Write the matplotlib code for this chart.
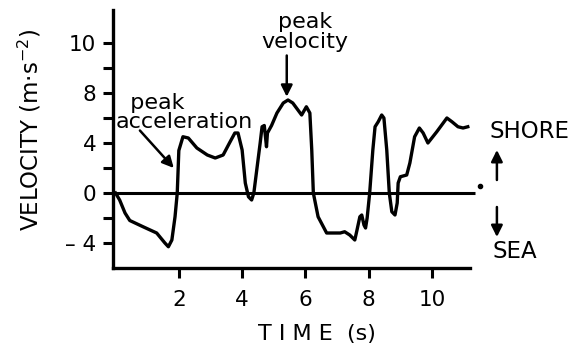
import numpy as np
import matplotlib.pyplot as plt

# velocity record (time in s, velocity in m/s)
time = [0.0, 0.13, 0.3, 0.45, 0.87, 1.3, 1.56, 1.67, 1.78, 1.88, 1.95, 2.0, 2.13,
        2.3, 2.57, 2.9, 3.15, 3.4, 3.6, 3.77, 3.87, 4.0, 4.1, 4.2, 4.3, 4.37,
        4.45, 4.57, 4.63, 4.7, 4.77, 4.8, 4.93, 5.1, 5.3, 5.45, 5.6, 5.88, 6.03,
        6.14, 6.2, 6.25, 6.4, 6.67, 7.1, 7.24, 7.4, 7.56, 7.63, 7.72, 7.78, 7.85,
        7.9, 7.95, 8.03, 8.13, 8.2, 8.3, 8.41, 8.48, 8.57, 8.65, 8.73, 8.83, 8.9,
        8.93, 9.0, 9.2, 9.3, 9.45, 9.6, 9.72, 9.87, 10.15, 10.47, 10.63, 10.82,
        10.98, 11.13]
velocity = [0.0, -0.56, -1.6, -2.2, -2.7, -3.2, -4.0, -4.3, -3.76, -1.9, 0.0, 3.4,
            4.5, 4.4, 3.6, 3.04, 2.8, 3.04, 4.0, 4.8, 4.8, 3.44, 0.8, -0.3, -0.56,
            0.0, 1.6, 4.0, 5.3, 5.4, 3.7, 4.8, 5.4, 6.4, 7.2, 7.44, 7.2, 6.24, 6.9,
            6.4, 3.44, 0.0, -1.9, -3.2, -3.2, -3.1, -3.36, -3.76, -2.96, -1.9,
            -1.76, -2.56, -2.8, -2.0, 0.0, 3.44, 5.3, 5.7, 6.24, 6.0, 3.44, 0.0,
            -1.5, -1.76, -0.8, 0.8, 1.3, 1.44, 2.4, 4.5, 5.2, 4.8, 4.0, 4.9, 6.0,
            5.7, 5.3, 5.2, 5.3]

x_ticks = [2, 4, 6, 8, 10]
y_ticks = [-4, -2, 0, 2, 4, 6, 8, 10, 12]
y_labels = ["\u2013 4", "", "0", "", "4", "", "8", "", "10"]

plt.rcParams['font.family'] = 'DejaVu Sans'
fig = plt.figure(figsize=(5.74, 3.49), dpi=100)
ax = fig.add_axes([113 / 574, 81 / 349, 357 / 574, 258 / 349])

ax.plot(time, velocity, color='black', lw=2.4, solid_joinstyle='round')
ax.hlines(0, 0, 11.35, color='black', lw=2.2, clip_on=False)
ax.plot([11.51], [0.56], 'o', color='black', ms=3, clip_on=False)

ax.set_xlim(-0.08, 11.2)
ax.set_ylim(-6, 14.64)
ax.set_xticks(x_ticks)
ax.set_yticks(y_ticks)
ax.set_yticklabels(y_labels)
ax.tick_params(axis='both', direction='out', length=7, width=2.2, labelsize=15.5)
ax.tick_params(axis='x', pad=9)
ax.tick_params(axis='y', pad=5)
for s in ['top', 'right']:
    ax.spines[s].set_visible(False)
for s in ['left', 'bottom']:
    ax.spines[s].set_linewidth(2.4)

fig.text(30 / 574, 1 - 130 / 349, "VELOCITY (m\u00b7s$^{-2}$)", rotation=90,
         ha='center', va='center', fontsize=16.5)
fig.text(317 / 574, 1 - 334 / 349, "T I M E  (s)", ha='center', va='center',
         fontsize=16)

arrow = dict(arrowstyle='-|>', lw=1.8, color='black', mutation_scale=17,
             shrinkA=0, shrinkB=0)
ax.text(5.98, 12.85, "peak\nvelocity", ha='center', va='center', fontsize=16,
        linespacing=1.0)
ax.annotate("", xy=(5.41, 7.7), xytext=(5.41, 11.0), arrowprops=arrow)
ax.text(0.0, 6.45, "  peak\nacceleration", ha='left', va='center',
        fontsize=16, linespacing=0.95)
ax.annotate("", xy=(1.84, 2.0), xytext=(0.77, 5.0), arrowprops=arrow)

ax.text(13.09, 4.96, "SHORE", ha='center', va='center', fontsize=16.5,
        clip_on=False)
ax.text(12.62, -4.72, "SEA", ha='center', va='center', fontsize=16.5,
        clip_on=False)
ax.annotate("", xy=(12.05, 3.44), xytext=(12.05, 1.04), arrowprops=arrow,
            annotation_clip=False)
ax.annotate("", xy=(12.05, -3.52), xytext=(12.05, -1.12), arrowprops=arrow,
            annotation_clip=False)

fig.savefig("out.png", dpi=100)
